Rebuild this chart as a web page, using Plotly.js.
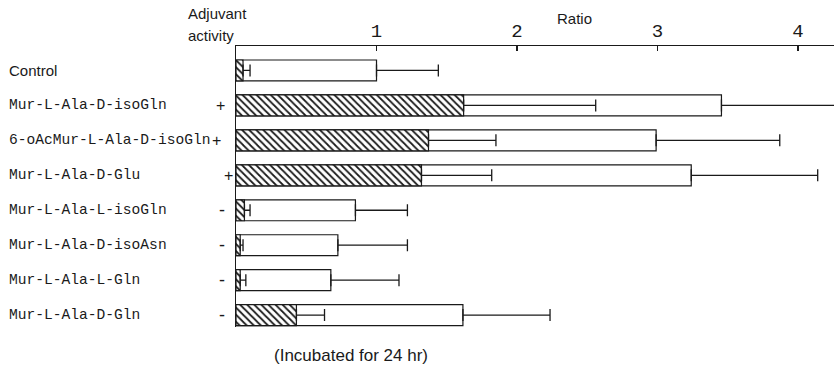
<!DOCTYPE html>
<html>
<head>
<meta charset="utf-8">
<script src="https://cdn.plot.ly/plotly-3.0.1.min.js"></script>
<style>html,body{margin:0;padding:0;background:#fff;}#chart{width:834px;height:371px;}</style>
</head>
<body>
<div id="chart"></div>
<script>
// ---- data ----
const categories = [
  "Control",
  "Mur-L-Ala-D-isoGln",
  "6-oAcMur-L-Ala-D-isoGln",
  "Mur-L-Ala-D-Glu",
  "Mur-L-Ala-L-isoGln",
  "Mur-L-Ala-D-isoAsn",
  "Mur-L-Ala-L-Gln",
  "Mur-L-Ala-D-Gln"
];
const adjuvant = ["", "+", "+", "+", "-", "-", "-", "-"];
const hatchedValues = [0.05, 1.62, 1.37, 1.32, 0.06, 0.03, 0.03, 0.43];
const hatchedErrors = [0.05, 0.94, 0.48, 0.50, 0.04, 0.02, 0.04, 0.20];
const openValues    = [1.00, 3.455, 2.99, 3.24, 0.85, 0.725, 0.675, 1.615];
const openErrors    = [0.44, 0.95, 0.88, 0.90, 0.37, 0.495, 0.485, 0.62];
const tickValues = [1, 2, 3, 4];
const tickLabels = ["1", "2", "3", "4"];

// ---- layout geometry ----
const W = 834, H = 371;
const M = {l: 236, r: 0, t: 46, b: 44};
const pw = W - M.l - M.r, ph = H - M.t - M.b;
const px = x => (x - M.l) / pw;
const py = y => (H - M.b - y) / ph;

const ink = "#1a1a1a";
const mono = "Liberation Mono, DejaVu Sans Mono, monospace";
const sans = "Liberation Sans, Arial, sans-serif";

const errStyle = (arr) => ({
  type: "data", symmetric: false, array: arr,
  arrayminus: arr.map(() => 0),
  color: ink, thickness: 1.3, width: 6
});

const traces = [
  {
    type: "bar", orientation: "h", y: categories, x: openValues,
    width: 0.6,
    marker: {color: "#ffffff", line: {color: ink, width: 1.2}},
    error_x: errStyle(openErrors),
    hoverinfo: "none"
  },
  {
    type: "bar", orientation: "h", y: categories, x: hatchedValues,
    width: 0.6,
    marker: {
      color: "#ffffff",
      line: {color: ink, width: 1.2},
      pattern: {shape: "\\", fgcolor: ink, bgcolor: "#ffffff", size: 5, solidity: 0.35}
    },
    error_x: errStyle(hatchedErrors),
    hoverinfo: "none"
  }
];

const annotations = [];
const plusX = [0, 220, 216, 228, 222, 222, 222, 222];
categories.forEach((c, i) => {
  annotations.push({
    xref: "paper", yref: "y", x: px(7), y: c, xanchor: "left", yanchor: "middle",
    text: c, showarrow: false,
    font: {family: c === "Control" ? sans : mono, size: c === "Control" ? 15 : 14.6, color: ink}
  });
  if (adjuvant[i]) {
    annotations.push({
      xref: "paper", yref: "y", x: px(plusX[i]), y: c, xanchor: "center", yanchor: "middle",
      text: adjuvant[i], showarrow: false,
      font: {family: sans, size: adjuvant[i] === "-" ? 18 : 16, color: ink}
    });
  }
});
annotations.push(
  {xref: "paper", yref: "paper", x: px(186), y: py(14), xanchor: "left", yanchor: "middle",
   text: "Adjuvant", showarrow: false, font: {family: sans, size: 15, color: ink}},
  {xref: "paper", yref: "paper", x: px(186), y: py(36), xanchor: "left", yanchor: "middle",
   text: "activity", showarrow: false, font: {family: sans, size: 15, color: ink}},
  {xref: "paper", yref: "paper", x: px(574), y: py(19), xanchor: "center", yanchor: "middle",
   text: "Ratio", showarrow: false, font: {family: sans, size: 15, color: ink}},
  {xref: "paper", yref: "paper", x: px(351), y: py(355), xanchor: "center", yanchor: "middle",
   text: "(Incubated for 24 hr)", showarrow: false, font: {family: sans, size: 17, color: ink}}
);

const layout = {
  width: W, height: H, margin: M,
  paper_bgcolor: "#ffffff", plot_bgcolor: "#ffffff",
  barmode: "overlay", showlegend: false,
  xaxis: {
    side: "top", range: [0, 4.256], showgrid: false, zeroline: false,
    showline: true, linecolor: ink, linewidth: 1.3,
    ticks: "inside", ticklen: 5, tickwidth: 1.3, tickcolor: ink,
    tickvals: tickValues, ticktext: tickLabels,
    tickfont: {family: mono, size: 19, color: ink},
    fixedrange: true
  },
  yaxis: {
    type: "category", autorange: false, range: [7.34, -0.70],
    showgrid: false, zeroline: false, showline: true, linecolor: ink, linewidth: 1.3,
    showticklabels: false, ticks: "", fixedrange: true
  },
  annotations: annotations
};

Plotly.newPlot("chart", traces, layout, {staticPlot: true, displayModeBar: false});
</script>
</body>
</html>
